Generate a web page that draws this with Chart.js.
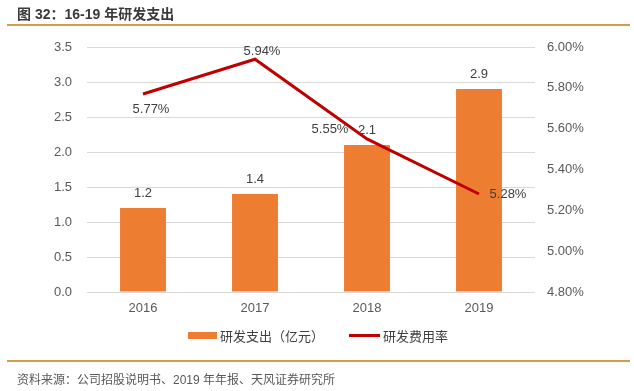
<!DOCTYPE html>
<html>
<head>
<meta charset="utf-8">
<script src="https://cdn.jsdelivr.net/npm/chart.js@4/dist/chart.umd.min.js"></script>
<style>
    body { margin: 0; background: #ffffff; font-family: "Liberation Sans", "Noto Sans CJK SC", sans-serif; }
    #wrap { position: relative; width: 634px; height: 391px; overflow: hidden; }
    #chart { position: absolute; left: 0; top: 0; }
    .txt { position: absolute; white-space: nowrap; }
    .rule { position: absolute; left: 7px; width: 623px; height: 2px; background: #d39b4e; }
    #title { left: 17px; top: 3px; font-size: 14px; font-weight: bold; color: #3a3a3a; }
    #source { left: 17px; top: 370px; font-size: 12px; color: #595959; }
    .legend-text { top: 326px; font-size: 13px; color: #404040; font-family: "Noto Sans CJK SC", sans-serif; }
</style>
</head>
<body>
<div id="wrap">
    <canvas id="chart" width="634" height="391"></canvas>
    <div class="txt" id="title">图 32：16-19 年研发支出</div>
    <div class="rule" style="top: 24px;"></div>
    <div style="position:absolute; left:188px; top:332px; width:29px; height:7px; background:#ed7d31;"></div>
    <div class="txt legend-text" style="left:220px;">研发支出（亿元）</div>
    <div style="position:absolute; left:349px; top:334px; width:31px; height:3px; background:#c00000;"></div>
    <div class="txt legend-text" style="left:383px;">研发费用率</div>
    <div class="rule" style="top: 360px;"></div>
    <div class="txt" id="source">资料来源：公司招股说明书、2019 年年报、天风证券研究所</div>
</div>
<script>
// Chart data.
var years = ["2016", "2017", "2018", "2019"];
var rdSpend = [1.2, 1.4, 2.1, 2.9];          // 研发支出（亿元）
var rdRate = [5.77, 5.94, 5.55, 5.28];       // 研发费用率 (%)

var fontFamily = '"Liberation Sans", Arial, sans-serif';
var labelFont = '13px ' + fontFamily;
var textColor = "#404040";
var tickColor = "#595959";

// Offsets of the rate labels from their points (dx, dy).
var rateLabelOffsets = [[8, 15], [7, -8], [-37, -9], [29, 0]];

var valueLabels = {
    id: "valueLabels",
    afterDatasetsDraw: function (chart) {
        var ctx = chart.ctx;
        ctx.save();
        ctx.font = labelFont;
        ctx.fillStyle = textColor;
        ctx.textAlign = "center";

        // Bar labels above each bar.
        var bars = chart.getDatasetMeta(0).data;
        ctx.textBaseline = "bottom";
        for (var i = 0; i < bars.length; i++) {
            ctx.fillText(rdSpend[i].toFixed(1), bars[i].x, bars[i].y - 8);
        }

        // Rate labels near each line point.
        var points = chart.getDatasetMeta(1).data;
        ctx.textBaseline = "middle";
        for (var j = 0; j < points.length; j++) {
            var off = rateLabelOffsets[j];
            ctx.fillText(rdRate[j].toFixed(2) + "%", points[j].x + off[0], points[j].y + off[1]);
        }
        ctx.restore();
    }
};

new Chart(document.getElementById("chart"), {
    type: "bar",
    data: {
        labels: years,
        datasets: [
            {
                type: "bar",
                label: "研发支出（亿元）",
                data: rdSpend,
                backgroundColor: "#ed7d31",
                yAxisID: "y",
                barPercentage: 0.41,
                categoryPercentage: 1,
                order: 1
            },
            {
                type: "line",
                label: "研发费用率",
                data: rdRate,
                borderColor: "#c00000",
                borderWidth: 3,
                pointRadius: 0,
                tension: 0,
                yAxisID: "y1",
                order: 0
            }
        ]
    },
    options: {
        responsive: false,
        animation: false,
        layout: { padding: { top: 47, bottom: 69, left: 0, right: 0 } },
        plugins: {
            legend: { display: false },
            tooltip: { enabled: false }
        },
        scales: {
            x: {
                grid: { display: false, drawTicks: false },
                border: { display: false },
                ticks: { color: tickColor, font: { size: 13, family: fontFamily }, padding: 9 },
                afterFit: function (scale) { scale.height = 30; }
            },
            y: {
                position: "left",
                min: 0,
                max: 3.5,
                grid: { color: "#d9d9d9", drawTicks: false },
                border: { display: false },
                ticks: {
                    stepSize: 0.5,
                    padding: 15,
                    color: tickColor,
                    font: { size: 13, family: fontFamily },
                    callback: function (v) { return v.toFixed(1); }
                },
                afterFit: function (scale) { scale.width = 87; }
            },
            y1: {
                position: "right",
                min: 4.8,
                max: 6.0,
                grid: { display: false, drawTicks: false },
                border: { display: false },
                ticks: {
                    stepSize: 0.2,
                    padding: 12,
                    color: tickColor,
                    font: { size: 13, family: fontFamily },
                    callback: function (v) { return v.toFixed(2) + "%"; }
                },
                afterFit: function (scale) { scale.width = 99; }
            }
        }
    },
    plugins: [valueLabels]
});
</script>
</body>
</html>
